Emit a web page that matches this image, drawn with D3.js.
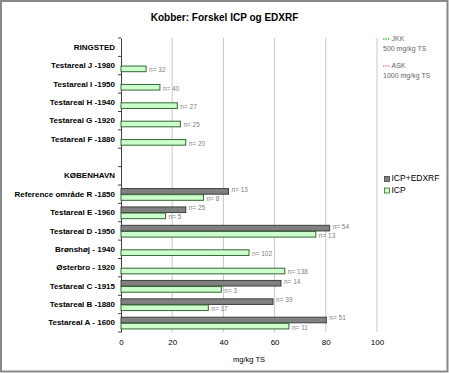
<!DOCTYPE html>
<html>
<head>
<meta charset="utf-8">
<script src="https://cdn.jsdelivr.net/npm/d3@7"></script>
<style>
  html, body { margin: 0; padding: 0; background: #fff; }
  svg { display: block; font-family: "Liberation Sans", Arial, sans-serif; }
</style>
</head>
<body>
<div id="chart"></div>
<script>
const categories = [
  "RINGSTED",
  "Testareal J -1980",
  "Testareal I -1950",
  "Testareal H -1940",
  "Testareal G -1920",
  "Testareal F -1880",
  "",
  "KØBENHAVN",
  "Reference område R -1850",
  "Testareal E -1960",
  "Testareal D -1950",
  "Brønshøj  - 1940",
  "Østerbro - 1920",
  "Testareal C -1915",
  "Testareal B -1880",
  "Testareal A - 1600"
];
const icpEdxrf  = [null, null, null, null, null, null, null, null, 42, 25.3, 81.5, null, null, 62.5, 59.4, 80.2];
const icpEdxrfN = [null, null, null, null, null, null, null, null, 13, 25, 54, null, null, 14, 39, 51];
const icp       = [null, 9.8, 15.2, 22, 23.2, 25.3, null, null, 32.2, 17.4, 76.1, 50, 64, 39.2, 34.1, 65.6];
const icpN      = [null, 32, 40, 27, 25, 20, null, null, 8, 5, 13, 102, 138, 3, 17, 11];
const seriesNames = ["ICP+EDXRF", "ICP"];
const xTicks = [0, 20, 40, 60, 80, 100];
const title = "Kobber: Forskel ICP og EDXRF";
const xTitle = "mg/kg TS";
const limitLegend = [
  { name: "JKK", value: "500 mg/kg TS" },
  { name: "ASK", value: "1000 mg/kg TS" }
];

const W = 449, H = 373;
const M = { left: 121, right: 72, top: 38, bottom: 41 };
const colors = { "ICP+EDXRF": "#808080", "ICP": "#ccffcc" };
const strokes = { "ICP+EDXRF": "#404040", "ICP": "#336633" };
const limitColors = ["#00a000", "#ff5050"];

const svg = d3.select("#chart").append("svg").attr("width", W).attr("height", H);

svg.append("rect").attr("x", 1).attr("y", 1).attr("width", W - 2.5).attr("height", H - 2.5)
  .attr("fill", "#fff").attr("stroke", "#888").attr("stroke-width", 2);

const x = d3.scaleLinear().domain([0, 100]).range([M.left, W - M.right]);
const y = d3.scaleBand().domain(categories).range([M.top, H - M.bottom]);
const sub = d3.scaleBand().domain(seriesNames).range([0, y.bandwidth()]).paddingInner(0).paddingOuter(0.5);

// gridlines
svg.append("g").selectAll("line").data(xTicks.filter(t => t > 0)).join("line")
  .attr("x1", d => x(d)).attr("x2", d => x(d))
  .attr("y1", M.top).attr("y2", H - M.bottom)
  .attr("stroke", "#c8c8c8").attr("stroke-width", 1);

// x axis labels
const xAxis = d3.axisBottom(x).tickValues(xTicks).tickSize(0).tickPadding(7);
const gx = svg.append("g").attr("transform", `translate(0,${H - M.bottom})`).call(xAxis);
gx.select(".domain").remove();
gx.selectAll("text").attr("font-size", "8px").attr("fill", "#000")
  .attr("font-family", "Liberation Sans, Arial, sans-serif");

svg.append("text").attr("x", (M.left + W - M.right) / 2).attr("y", 362)
  .attr("text-anchor", "middle").attr("font-size", "7.5px").attr("fill", "#000").text(xTitle);

// y axis
const yAxis = d3.axisLeft(y).tickSize(0).tickPadding(6);
const gy = svg.append("g").attr("transform", `translate(${M.left},0)`).call(yAxis);
gy.select(".domain").attr("stroke", "#404040");
gy.selectAll("text").attr("font-size", "8px").attr("font-weight", "bold").attr("fill", "#000")
  .attr("font-family", "Liberation Sans, Arial, sans-serif");
// band-boundary ticks
const bounds = categories.map(c => y(c)).concat([y(categories[categories.length - 1]) + y.bandwidth()]);
svg.append("g").selectAll("line").data(bounds).join("line")
  .attr("x1", M.left - 3).attr("x2", M.left)
  .attr("y1", d => d).attr("y2", d => d)
  .attr("stroke", "#404040");

// bars
const rows = categories.map((c, i) => ({ c, vals: [
  { s: "ICP+EDXRF", v: icpEdxrf[i], n: icpEdxrfN[i] },
  { s: "ICP", v: icp[i], n: icpN[i] }
].filter(d => d.v != null) }));

const g = svg.append("g");
rows.forEach(r => {
  r.vals.forEach(d => {
    const yy = y(r.c) + sub(d.s);
    g.append("rect")
      .attr("x", x(0)).attr("y", yy + 0.5)
      .attr("width", x(d.v) - x(0)).attr("height", sub.bandwidth() - 0.5)
      .attr("fill", colors[d.s]).attr("stroke", strokes[d.s]).attr("stroke-width", 1);
    g.append("text")
      .attr("x", x(d.v) + 3)
      .attr("y", yy + sub.bandwidth() / 2 + (d.s === "ICP" ? 2 : -1))
      .attr("dominant-baseline", "middle")
      .attr("font-size", "6.5px").attr("fill", "#808080")
      .text("n= " + d.n);
  });
});

// title
svg.append("text").attr("x", 224.5).attr("y", 21).attr("text-anchor", "middle")
  .attr("font-size", "10px").attr("font-weight", "bold").attr("fill", "#000").text(title);

// limit legend
limitLegend.forEach((d, i) => {
  const yy = 39 + i * 27;
  svg.append("line").attr("x1", 383).attr("x2", 390).attr("y1", yy).attr("y2", yy)
    .attr("stroke", limitColors[i]).attr("stroke-width", 1).attr("stroke-dasharray", "1.5,1");
  svg.append("text").attr("x", 391.5).attr("y", yy).attr("dominant-baseline", "middle")
    .attr("font-size", "7px").attr("fill", "#666").text(d.name);
  svg.append("text").attr("x", 383).attr("y", yy + 10).attr("dominant-baseline", "middle")
    .attr("font-size", "7px").attr("fill", "#666").text(d.value);
});

// series legend
seriesNames.forEach((s, i) => {
  const yy = 179 + i * 11.5;
  svg.append("rect").attr("x", 384.5).attr("y", yy - 2.5).attr("width", 5).attr("height", 5)
    .attr("fill", colors[s]).attr("stroke", strokes[s]).attr("stroke-width", 0.8);
  svg.append("text").attr("x", 391.5).attr("y", yy).attr("dominant-baseline", "middle")
    .attr("font-size", "8.5px").attr("fill", "#000").text(s);
});
</script>
</body>
</html>
